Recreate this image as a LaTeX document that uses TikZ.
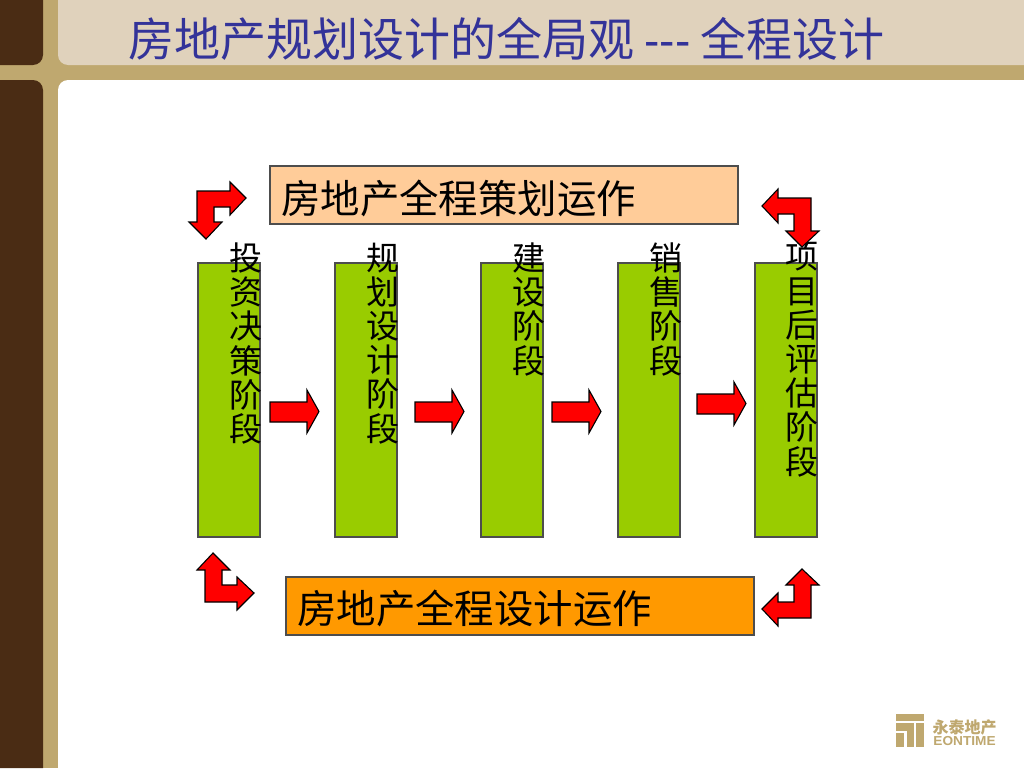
\documentclass[tikz,border=0pt]{standalone}
\usepackage{fontspec}
\setmainfont{Noto Sans CJK SC}
\newfontfamily\latinf{Liberation Sans}
\definecolor{brownbar}{HTML}{4A2C14}
\definecolor{tanbg}{HTML}{BFA86F}
\definecolor{headbg}{HTML}{E0D2BC}
\definecolor{titleblue}{HTML}{333399}
\definecolor{barfill}{HTML}{99CC00}
\definecolor{peach}{HTML}{FFCC99}
\definecolor{orangebox}{HTML}{FF9900}
\definecolor{edgegrey}{HTML}{4D4D4D}
\tikzset{
  blockarrow/.style={fill=red,draw=black,line width=1.1pt,line join=miter},
  stagebar/.style={fill=barfill,draw=edgegrey,line width=1.2pt},
  stagetext/.style={inner sep=0pt,anchor=north,align=center,font=\fontsize{33}{34.2}\selectfont},
  opsbox/.style={draw=edgegrey,line width=1.2pt},
  opstext/.style={inner sep=0pt,anchor=west,font=\fontsize{39.4}{42}\selectfont},
}
\begin{document}
\begin{tikzpicture}[x=1pt,y=-1pt]
\useasboundingbox (0,0) rectangle (1024,768);
% frame
\fill[tanbg] (0,0) rectangle (1024,768);
\fill[brownbar] (0,0) -- (43,0) -- (43,55) arc[start angle=0,end angle=90,radius=10] -- (0,65) -- cycle;
\fill[brownbar] (0,80) -- (33,80) arc[start angle=-90,end angle=0,radius=10] -- (43,768) -- (0,768) -- cycle;
\fill[headbg] (58,0) -- (1024,0) -- (1024,65) -- (68,65) arc[start angle=90,end angle=180,radius=10] -- cycle;
\fill[white] (68,80) -- (1024,80) -- (1024,768) -- (58,768) -- (58,90) arc[start angle=180,end angle=270,radius=10] -- cycle;
% title
\node[inner sep=0pt,anchor=west,text=titleblue,font=\fontsize{46}{50}\selectfont] (title) at (128,39) {房地产规划设计的全局观 {\latinf ---} 全程设计};
% boxes
\node[opsbox,fill=peach,minimum width=468pt,minimum height=58pt,inner sep=0pt] (planbox) at (504,195) {};
\node[opstext] (plantext) at (281,198) {房地产全程策划运作};
\node[opsbox,fill=orangebox,minimum width=468pt,minimum height=58pt,inner sep=0pt] (designbox) at (520,606) {};
\node[opstext] (designtext) at (297,608) {房地产全程设计运作};
% stage bars
\node[stagebar,minimum width=62pt,minimum height=274pt,inner sep=0pt] (bar1) at (229,400) {};
\node[stagebar,minimum width=62pt,minimum height=274pt,inner sep=0pt] (bar2) at (366,400) {};
\node[stagebar,minimum width=62pt,minimum height=274pt,inner sep=0pt] (bar3) at (512,400) {};
\node[stagebar,minimum width=62pt,minimum height=274pt,inner sep=0pt] (bar4) at (649,400) {};
\node[stagebar,minimum width=62pt,minimum height=274pt,inner sep=0pt] (bar5) at (786,400) {};
% stage labels
\node[stagetext] (t1) at (245.5,242.5) {投\\资\\决\\策\\阶\\段};
\node[stagetext] (t2) at (382.5,242.5) {规\\划\\设\\计\\阶\\段};
\node[stagetext] (t3) at (528.5,242.5) {建\\设\\阶\\段};
\node[stagetext] (t4) at (665.5,242.5) {销\\售\\阶\\段};
\node[stagetext] (t5) at (801.5,242.5) {项\\目\\后\\评\\估\\阶\\段};
% straight block arrows
\draw[blockarrow] (270,402) -- (307,402) -- (307,390) -- (319,411.5) -- (307,433) -- (307,422) -- (270,422) -- cycle;
\draw[blockarrow] (415,402) -- (452,402) -- (452,390) -- (464,411.5) -- (452,433) -- (452,422) -- (415,422) -- cycle;
\draw[blockarrow] (552,402) -- (589,402) -- (589,390) -- (601,411.5) -- (589,433) -- (589,422) -- (552,422) -- cycle;
\draw[blockarrow] (697,394) -- (734,394) -- (734,382) -- (746,403.5) -- (734,425) -- (734,414) -- (697,414) -- cycle;
% bent block arrows
\draw[blockarrow] (246,198) -- (230,182) -- (230,191) -- (197,191) -- (197,222) -- (189,222) -- (206,239) -- (222,222) -- (214,222) -- (214,207) -- (230,207) -- (230,215) -- cycle;
\draw[blockarrow] (762,206) -- (778,189) -- (778,198) -- (811,198) -- (811,231) -- (819,231) -- (802,247) -- (786,231) -- (794,231) -- (794,214) -- (778,214) -- (778,223) -- cycle;
\draw[blockarrow] (213,553) -- (230,570) -- (222,570) -- (222,585) -- (237,585) -- (237,577) -- (254,593) -- (237,610) -- (237,602) -- (205,602) -- (205,570) -- (197,570) -- cycle;
\draw[blockarrow] (802,569) -- (819,585) -- (811,585) -- (811,618) -- (778,618) -- (778,626) -- (762,609) -- (778,593) -- (778,602) -- (794,602) -- (794,585) -- (786,585) -- cycle;
% logo
\fill[tanbg] (896,714) rectangle (924,721);
\fill[tanbg] (896,723) rectangle (914,731);
\fill[tanbg] (896,733) rectangle (904,747);
\fill[tanbg] (907,731) rectangle (914,747);
\fill[tanbg] (916,723) rectangle (924,747);
\node[inner sep=0pt,text=tanbg,font=\bfseries\fontsize{16}{17}\selectfont] (logocn) at (964.5,727) {永泰地产};
\node[inner sep=0pt,text=tanbg,font=\latinf\bfseries\fontsize{13}{14}\selectfont,xscale=1.05] (logoen) at (964.5,741.5) {EONTIME};
\end{tikzpicture}
\end{document}
